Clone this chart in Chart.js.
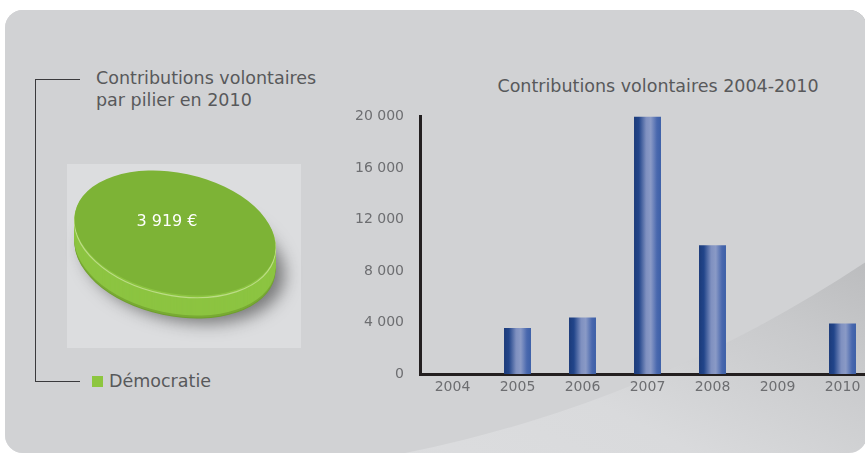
<!DOCTYPE html>
<html lang="fr">
<head>
<meta charset="utf-8">
<title>Contributions volontaires</title>
<script src="https://cdn.jsdelivr.net/npm/chart.js@4/dist/chart.umd.min.js"></script>
<style>
  html, body { margin: 0; padding: 0; }
  body {
    width: 865px; height: 455px; overflow: hidden; position: relative;
    background: #fff; font-family: "DejaVu Sans", sans-serif;
  }
  .panel {
    position: absolute; left: 5px; top: 10px; width: 862px; height: 443px;
    border-radius: 18px; overflow: hidden;
    background: linear-gradient(to top right, #dfe0e2 0%, #d9dadc 40%, #c8c9cb 60%, #b4b5b7 78%, #aaabad 100%);
  }
  .swoosh {
    position: absolute; left: -1136px; top: -2100px; width: 2568px; height: 2568px;
    border-radius: 50%; background: #d1d2d4;
  }
  .bracket {
    position: absolute; left: 35px; top: 79px; width: 44px; height: 301px;
    border: 1.5px solid #3a3a3c; border-right: none;
  }
  .left-title {
    position: absolute; left: 96px; top: 67px; font-size: 17.5px; line-height: 22px; color: #58595b;
  }
  .bar-title {
    position: absolute; left: 458px; top: 75px; width: 400px; text-align: center;
    font-size: 17.5px; line-height: 22px; color: #58595b;
  }
  .pie-box {
    position: absolute; left: 67px; top: 164px; width: 234px; height: 184px; background: #dcdddf;
  }
  #pieChart { position: absolute; left: 45px; top: 103px; }
  #barChart { position: absolute; left: 340px; top: 60px; }
  .legend {
    position: absolute; left: 92px; top: 370px; font-size: 17.5px; line-height: 22px; color: #58595b;
    display: flex; align-items: center;
  }
  .legend span.box { display: inline-block; width: 11px; height: 11px; background: #8dc63f; margin-right: 6px; }
</style>
</head>
<body>
<div class="panel"><div class="swoosh"></div></div>
<div class="bracket"></div>
<div class="left-title">Contributions volontaires<br>par pilier en 2010</div>
<div class="bar-title">Contributions volontaires 2004-2010</div>
<div class="pie-box"></div>
<canvas id="pieChart" width="260" height="260"></canvas>
<canvas id="barChart" width="636" height="340"></canvas>
<div class="legend" id="pieLegend"></div>

<script>
const years = ['2004', '2005', '2006', '2007', '2008', '2009', '2010'];
const contributions = [0, 3580, 4390, 20000, 10000, 0, 3919];
const yTicks = [0, 4000, 8000, 12000, 16000, 20000];

const pieLabels = ['Démocratie'];
const pieValues = [3919];

const FONT = '"DejaVu Sans", sans-serif';
const BAR_PCT = 0.415;

function spaced(v) {
    return String(v).replace(/\B(?=(\d{3})+(?!\d))/g, ' ');
}

// legend for the pie
document.getElementById('pieLegend').innerHTML =
    pieLabels.map(l => `<span class="box"></span>${l}`).join('');

// ---------- pie drawn as a tilted disc ----------
const TILT = 12 * Math.PI / 180;
const FLAT = 0.59;
const DEPTH = 23;

function discPath(ctx, x, y, r, dy) {
    ctx.save();
    ctx.translate(x, y + dy);
    ctx.rotate(TILT);
    ctx.scale(1, FLAT);
    ctx.beginPath();
    ctx.arc(0, 0, r, 0, Math.PI * 2);
    ctx.restore();
}

const discPlugin = {
    id: 'disc3d',
    beforeDatasetsDraw(chart) {
        const ctx = chart.ctx;
        const arc = chart.getDatasetMeta(0).data[0];
        const { x, y, outerRadius } = arc.getProps(['x', 'y', 'outerRadius'], true);

        // shadow + bottom edge
        ctx.save();
        ctx.shadowColor = 'rgba(40,40,40,0.55)';
        ctx.shadowBlur = 16;
        ctx.shadowOffsetX = 9;
        ctx.shadowOffsetY = 5;
        discPath(ctx, x, y, outerRadius, DEPTH);
        ctx.fillStyle = '#6e9f2c';
        ctx.fill();
        ctx.restore();

        // side of the disc
        for (let d = DEPTH - 1; d >= 1; d--) {
            discPath(ctx, x, y, outerRadius, d);
            ctx.fillStyle = d > DEPTH - 3 ? '#79ab33' : '#8cc441';
            ctx.fill();
        }
        discPath(ctx, x, y, outerRadius, 2);
        ctx.strokeStyle = '#bcdc86';
        ctx.lineWidth = 1.2;
        ctx.stroke();

        // top face is drawn by Chart.js in the flattened space
        ctx.save();
        ctx.translate(x, y);
        ctx.rotate(TILT);
        ctx.scale(1, FLAT);
        ctx.translate(-x, -y);
    },
    afterDatasetsDraw(chart) {
        const ctx = chart.ctx;
        ctx.restore();
        const arc = chart.getDatasetMeta(0).data[0];
        const { x, y } = arc.getProps(['x', 'y'], true);
        ctx.save();
        ctx.fillStyle = '#ffffff';
        ctx.font = '16px ' + FONT;
        ctx.textAlign = 'center';
        ctx.textBaseline = 'middle';
        ctx.fillText(spaced(pieValues[0]) + ' €', x - 8, y - 11);
        ctx.restore();
    }
};

new Chart(document.getElementById('pieChart'), {
    type: 'pie',
    data: {
        labels: pieLabels,
        datasets: [{
            data: pieValues,
            backgroundColor: '#7db336',
            borderWidth: 0
        }]
    },
    options: {
        responsive: false,
        animation: false,
        layout: { padding: 28 },
        plugins: {
            legend: { display: false },
            tooltip: { enabled: false }
        }
    },
    plugins: [discPlugin]
});

// ---------- bar chart ----------
function barGradient(context) {
    const chart = context.chart;
    const sx = chart.scales.x;
    const fallback = '#2f4f93';
    if (!sx || context.dataIndex === undefined) return fallback;
    const cx = sx.getPixelForValue(context.dataIndex);
    const half = sx.width / years.length * BAR_PCT / 2;
    if (!isFinite(cx) || !isFinite(half) || half <= 0) return fallback;
    const g = chart.ctx.createLinearGradient(cx - half, 0, cx + half, 0);
    g.addColorStop(0, '#1c3b7a');
    g.addColorStop(0.18, '#22458a');
    g.addColorStop(0.45, '#7f90c0');
    g.addColorStop(0.62, '#8a9ac6');
    g.addColorStop(0.85, '#4968ae');
    g.addColorStop(1, '#3c5fa7');
    return g;
}

const tickColor = '#6d6e71';

new Chart(document.getElementById('barChart'), {
    type: 'bar',
    data: {
        labels: years,
        datasets: [{
            data: contributions,
            backgroundColor: barGradient,
            borderWidth: 0,
            barPercentage: BAR_PCT,
            categoryPercentage: 1
        }]
    },
    options: {
        responsive: false,
        animation: false,
        layout: { padding: { left: 0, right: 101, top: 56.5, bottom: 0 } },
        plugins: {
            legend: { display: false },
            tooltip: { enabled: false }
        },
        scales: {
            x: {
                grid: { display: false, drawTicks: false },
                border: { display: true, color: '#231f20', width: 3 },
                ticks: { color: tickColor, font: { family: FONT, size: 14 }, padding: 5 },
                afterFit: s => { s.height = 26; }
            },
            y: {
                min: 0,
                max: 20000,
                grid: { display: false, drawTicks: false },
                border: { display: true, color: '#231f20', width: 3 },
                ticks: { color: tickColor, font: { family: FONT, size: 14 }, padding: 16, callback: v => spaced(v) },
                afterBuildTicks: s => { s.ticks = yTicks.map(v => ({ value: v })); },
                afterFit: s => { s.width = 80; }
            }
        }
    }
});
</script>
</body>
</html>
